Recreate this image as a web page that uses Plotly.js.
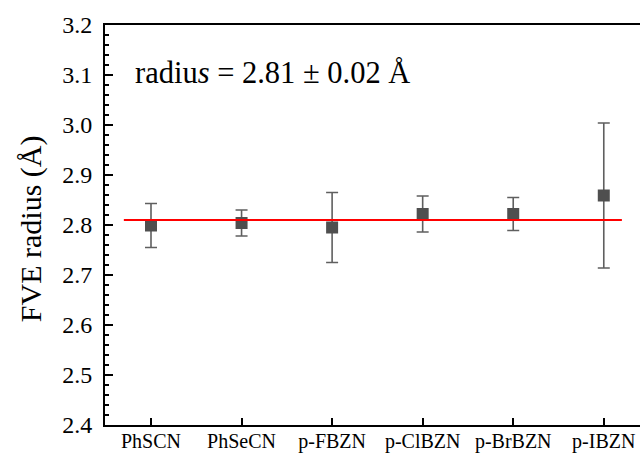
<!DOCTYPE html>
<html>
<head>
<meta charset="utf-8">
<script src="https://cdn.plot.ly/plotly-3.0.1.min.js"></script>
<style>
  html, body { margin: 0; padding: 0; background: #fff; }
  #chart { width: 640px; height: 454px; }
</style>
</head>
<body>
<div id="chart"></div>
<script>
// Fitted FVE radius per compound, with uncertainty
const compounds = ["PhSCN", "PhSeCN", "p-FBZN", "p-ClBZN", "p-BrBZN", "p-IBZN"];
const radius = [2.799, 2.804, 2.795, 2.822, 2.822, 2.859];
const radiusErr = [0.044, 0.026, 0.070, 0.036, 0.033, 0.145];

// Mean radius across all compounds
const meanRadius = 2.81;
const meanLineSpan = [-0.3, 5.2];

const yTickVals = [2.4, 2.5, 2.6, 2.7, 2.8, 2.9, 3.0, 3.1, 3.2];
const yTickText = ["2.4", "2.5", "2.6", "2.7", "2.8", "2.9", "3.0", "3.1", "3.2"];

const serif = '"Liberation Serif", "Times New Roman", Times, serif';
const xIdx = compounds.map((_, i) => i);

const traces = [
  {
    x: xIdx,
    y: radius,
    type: "scatter",
    mode: "markers",
    marker: { symbol: "square", size: 12, color: "#4f4f4f" },
    error_y: {
      type: "data",
      array: radiusErr,
      visible: true,
      color: "#5f5f5f",
      thickness: 1.6,
      width: 6
    },
    showlegend: false,
    hoverinfo: "x+y"
  },
  {
    x: meanLineSpan,
    y: [meanRadius, meanRadius],
    type: "scatter",
    mode: "lines",
    line: { color: "#ff0000", width: 2 },
    showlegend: false,
    hoverinfo: "skip"
  }
];

const layout = {
  width: 640,
  height: 454,
  margin: { l: 105, r: 0, t: 25, b: 29 },
  paper_bgcolor: "#ffffff",
  plot_bgcolor: "#ffffff",
  font: { family: serif, color: "#000", size: 20 },
  xaxis: {
    range: [-0.508, 5.4],
    tickmode: "array",
    tickvals: xIdx,
    ticktext: compounds,
    ticks: "inside",
    ticklen: 7,
    tickwidth: 2,
    tickcolor: "#000",
    showline: true,
    linecolor: "#000",
    linewidth: 2,
    mirror: true,
    showgrid: false,
    zeroline: false,
    ticklabelstandoff: -3,
    tickfont: { family: serif, size: 20, color: "#000" }
  },
  yaxis: {
    range: [2.4, 3.2],
    tickmode: "array",
    tickvals: yTickVals,
    ticktext: yTickText,
    ticks: "inside",
    ticklen: 8,
    tickwidth: 2,
    tickcolor: "#000",
    minor: { dtick: 0.02, ticks: "inside", ticklen: 4, tickwidth: 2, tickcolor: "#000", showgrid: false },
    showline: true,
    linecolor: "#000",
    linewidth: 2,
    showgrid: false,
    zeroline: false,
    ticklabelstandoff: 6,
    tickfont: { family: serif, size: 24, color: "#000" }
  },
  annotations: [
    {
      // y-axis title, placed by hand so it can sit slightly below centre
      xref: "paper",
      yref: "paper",
      x: -0.138,
      y: 0.49,
      xanchor: "center",
      yanchor: "middle",
      textangle: -90,
      showarrow: false,
      text: "FVE radius (Å)",
      font: { family: serif, size: 30, color: "#000" }
    },
    {
      xref: "paper",
      yref: "paper",
      x: 0.052,
      y: 0.88,
      xanchor: "left",
      yanchor: "middle",
      showarrow: false,
      text: "radiu<i>s</i> = 2.81 ± 0.02 Å",
      font: { family: serif, size: 30.5, color: "#000" }
    }
  ]
};

Plotly.newPlot("chart", traces, layout, { displayModeBar: false, staticPlot: true });
</script>
</body>
</html>
